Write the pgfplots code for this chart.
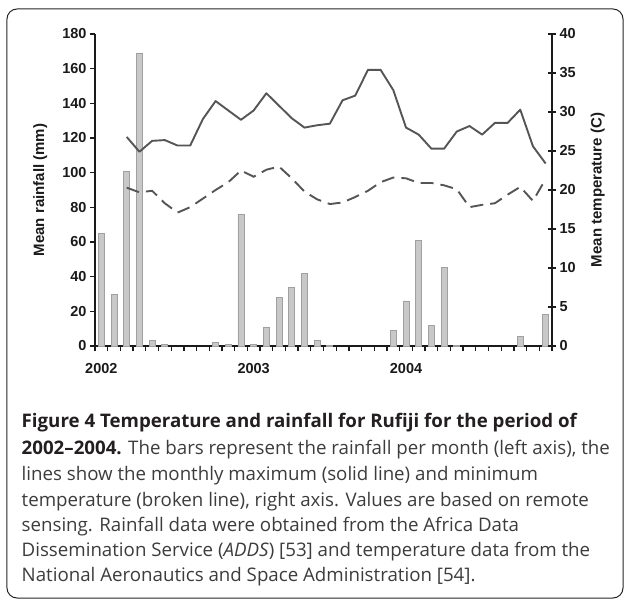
\documentclass[border=0pt]{standalone}
\usepackage{pgfplots}
\pgfplotsset{compat=1.18}
\usepackage{pgfplotstable}
\usepackage{fontspec}
\setmainfont{Open Sans}
\newfontfamily\arial{Liberation Sans}
\definecolor{barfill}{HTML}{C8C8C8}
\definecolor{bardraw}{HTML}{A0A0A0}
\definecolor{linec}{HTML}{555555}
\definecolor{axc}{HTML}{1A1A1A}
\definecolor{capbold}{HTML}{231F20}
\definecolor{captext}{HTML}{3C3C3C}

\pgfplotstableread{
x r
0.5 65
1.5 30
2.5 101
3.5 169
4.5 3.3
5.5 0.8
9.5 2
10.5 1
11.5 76
12.5 1
13.5 11
14.5 28
15.5 34
16.5 42
17.5 3.3
18.5 0.5
23.5 9
24.5 26
25.5 61
26.5 12
27.5 45.5
28.5 0.5
33.5 5.6
35.5 18.3
}\rain

\pgfplotstableread{
x tmax tmin
2.5 26.8 20.3
3.5 24.9 19.7
4.5 26.3 19.9
5.5 26.4 18.3
6.5 25.7 17.1
7.5 25.7 17.8
8.5 29.1 18.9
9.5 31.4 20.0
10.5 30.2 21.0
11.5 29.0 22.5
12.5 30.2 21.7
13.5 32.4 22.6
14.5 30.8 23.0
15.5 29.2 21.5
16.5 28.0 19.8
17.5 28.3 18.8
18.5 28.5 18.2
19.5 31.5 18.4
20.5 32.1 19.1
21.5 35.4 19.9
22.5 35.4 21.0
23.5 32.8 21.6
24.5 28.0 21.5
25.5 27.1 20.9
26.5 25.3 20.9
27.5 25.3 20.6
28.5 27.5 20.1
29.5 28.2 17.8
30.5 27.1 18.1
31.5 28.6 18.3
32.5 28.6 19.4
33.5 30.3 20.4
34.5 25.6 18.6
35.5 23.4 21.4
}\temp

\begin{document}
\begin{tikzpicture}
\path[use as bounding box] (-95pt,-254pt) rectangle (529pt,346pt);
\draw[line width=1pt, color=black!85, rounded corners=10pt] (-88pt,337pt) rectangle (528pt,-252pt);

\pgfplotsset{chart/.style={
  width=457pt, height=312pt, scale only axis,
  xmin=0, xmax=36, enlarge x limits=false,
  /pgf/number format/assume math mode=true,
  ticklabel style={font=\arial\bfseries\fontsize{14.5}{16}\selectfont, color=axc},
  axis line style={line width=1.3pt, color=axc},
  major tick style={line width=1.3pt, color=axc},
  label style={font=\arial\bfseries\fontsize{15}{17}\selectfont, color=axc},
}}

\begin{axis}[chart,
  axis y line*=left, axis x line*=bottom,
  ymin=0, ymax=180, ytick={0,20,...,180},
  xtick={0,...,36}, xticklabels={},
  extra x ticks={0.5,12.5,24.5},
  extra x tick labels={2002,2003,2004},
  extra x tick style={major tick length=0pt, xticklabel style={yshift=-14pt}},
  tick align=outside, major tick length=5pt,
  ylabel={Mean rainfall (mm)},
  ylabel style={at={(axis description cs:-0.12,0.5)}, anchor=center},
]
\addplot[ybar, bar width=6pt, bar shift=0pt, fill=barfill, draw=bardraw, line width=0.8pt] table[x=x,y=r]{\rain};
\end{axis}

\begin{axis}[chart,
  axis y line*=right, axis x line=none,
  ymin=0, ymax=40, ytick={0,5,...,40},
  tick align=center, major tick length=8pt,
  ylabel={Mean temperature (C)},
  ylabel style={at={(axis description cs:1.10,0.5)}, anchor=center},
]
\addplot[linec, line width=1.9pt, mark=none, line join=round] table[x=x,y=tmax]{\temp};
\addplot[linec, line width=1.9pt, mark=none, dash pattern=on 13pt off 7pt] table[x=x,y=tmin]{\temp};
\end{axis}

\begin{scope}[every node/.style={anchor=base west, inner sep=0pt, font=\fontsize{18.7}{22}\selectfont, text=captext}]
\node[text=capbold, font=\fontsize{18.7}{22}\selectfont\bfseries] at (-73.5pt,-81.3pt) {Figure 4 Temperature and rainfall for Rufiji for the period of};
\node at (-73.5pt,-108pt) {\textbf{\color{capbold}2002–2004.} The bars represent the rainfall per month (left axis), the};
\node at (-73.5pt,-134pt) {lines show the monthly maximum (solid line) and minimum};
\node at (-73.5pt,-160.7pt) {temperature (broken line), right axis. Values are based on remote};
\node at (-73.5pt,-185.7pt) {sensing. Rainfall data were obtained from the Africa Data};
\node at (-73.5pt,-210.7pt) {Dissemination Service (\textit{ADDS}) [53] and temperature data from the};
\node at (-73.5pt,-235.7pt) {National Aeronautics and Space Administration [54].};
\end{scope}
\end{tikzpicture}
\end{document}
